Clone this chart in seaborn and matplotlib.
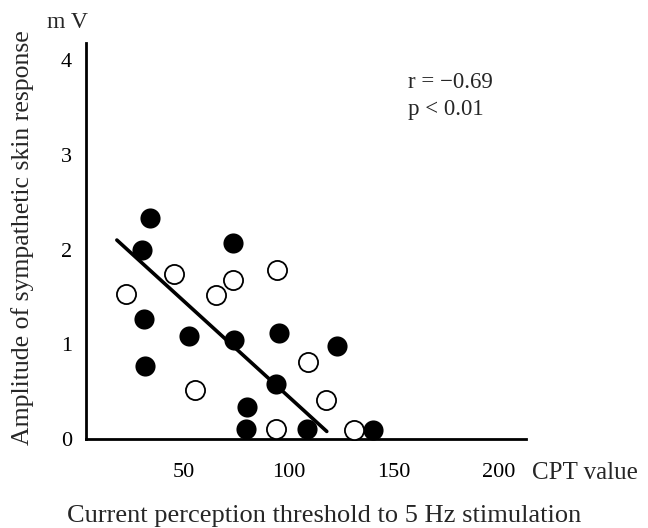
import numpy as np
import pandas as pd
import seaborn as sns
import matplotlib
matplotlib.use('Agg')
import matplotlib.pyplot as plt

# data
filled_x = [34, 30, 73.5, 31, 52.5, 74, 95, 31.5, 94, 80, 79.5, 108.5, 123, 140]
filled_y = [2.33, 1.99, 2.07, 1.27, 1.09, 1.04, 1.12, 0.77, 0.58, 0.34, 0.11, 0.11, 0.98, 0.09]
open_x = [22.5, 45, 65, 73.5, 94.5, 55, 94, 109, 117.5, 131]
open_y = [1.53, 1.74, 1.52, 1.68, 1.78, 0.52, 0.11, 0.81, 0.41, 0.10]
fit_x = [18, 118]
fit_y = [2.10, 0.08]

x_ticks = [50, 100, 150, 200]
y_ticks = [0, 1, 2, 3, 4]

df_filled = pd.DataFrame({'CPT': filled_x, 'SSR': filled_y})
df_open = pd.DataFrame({'CPT': open_x, 'SSR': open_y})
df_fit = pd.DataFrame({'CPT': fit_x, 'SSR': fit_y})

sns.set_style('white')
plt.rcParams['font.family'] = ['Liberation Serif', 'DejaVu Serif']

fig = plt.figure(figsize=(6.48, 5.28), dpi=100)
ax = fig.add_axes([86 / 648, 89 / 528, 440 / 648, 396 / 528])

# regression line
sns.lineplot(data=df_fit, x='CPT', y='SSR', color='black', linewidth=2.6, ax=ax, zorder=2)

# filled circles
sns.scatterplot(data=df_filled, x='CPT', y='SSR', color='black', s=210,
                linewidth=0, ax=ax, zorder=3, clip_on=False)
# open circles
sns.scatterplot(data=df_open, x='CPT', y='SSR', facecolor='white', edgecolor='black',
                s=190, linewidth=1.3, ax=ax, zorder=3, clip_on=False)

ax.set_xlim(3.3, 212.9)
ax.set_ylim(0, 4.18)
ax.set_xticks(x_ticks)
ax.set_yticks(y_ticks)
ax.set_xlabel('')
ax.set_ylabel('')

sns.despine(ax=ax)
for side in ['left', 'bottom']:
    ax.spines[side].set_linewidth(2.0)
    ax.spines[side].set_color('black')

ax.tick_params(axis='both', direction='in', length=11.5, width=1.1, colors='black',
               labelsize=16)
ax.tick_params(axis='x', pad=17)
ax.tick_params(axis='y', pad=10)

# texts
fig.text(408 / 648, 1 - 82 / 528, 'r = −0.69', fontsize=16.5, va='center', ha='left')
fig.text(408 / 648, 1 - 110 / 528, 'p < 0.01', fontsize=16.5, va='center', ha='left')

fig.text(67 / 648, 1 - 22 / 528, 'm V', fontsize=17, ha='center', va='center')
fig.text(532 / 648, 1 - 473 / 528, 'CPT value', fontsize=18, ha='left', va='center')
fig.text(23 / 648, 1 - 238 / 528, 'Amplitude of sympathetic skin response', fontsize=18.5,
         rotation=90, ha='center', va='center')
fig.text(0.5, 1 - 516 / 528, 'Current perception threshold to 5 Hz stimulation',
         fontsize=19, ha='center', va='center')

plt.savefig('out.png', dpi=100)
